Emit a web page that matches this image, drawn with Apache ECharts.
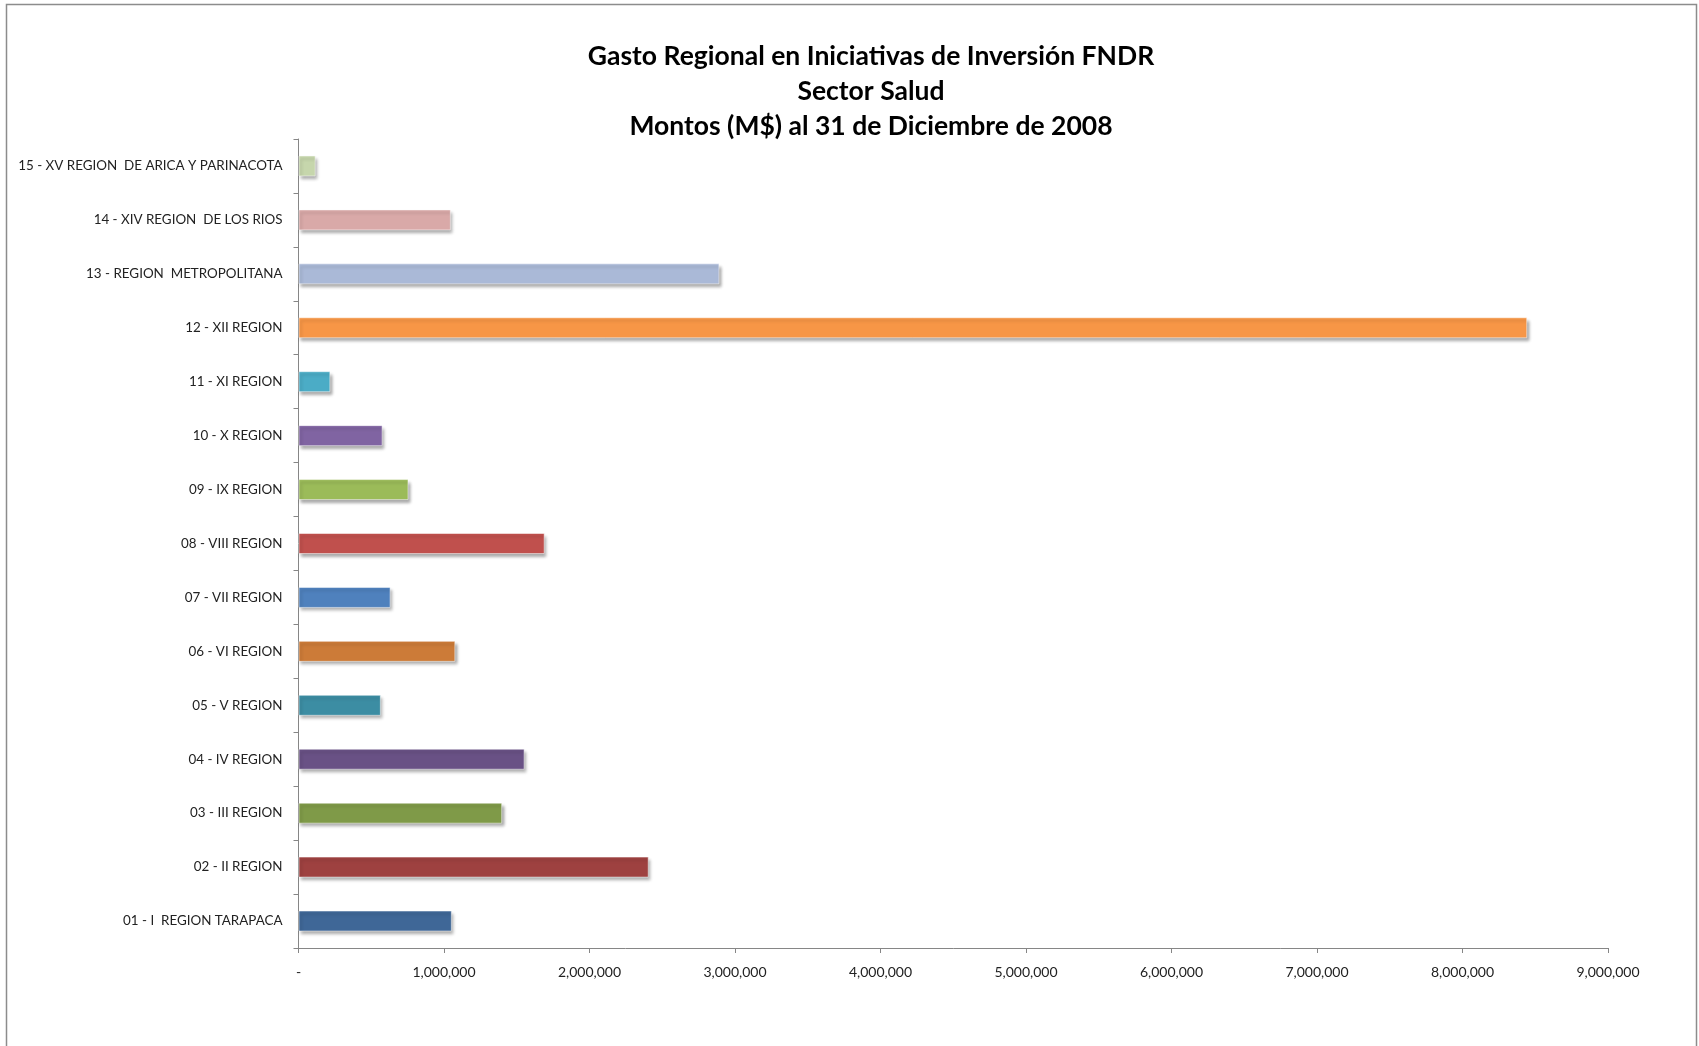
<!DOCTYPE html>
<html><head><meta charset="utf-8">
<script src="https://cdn.jsdelivr.net/npm/echarts@6/dist/echarts.min.js"></script>
<style>html,body{margin:0;padding:0;background:#fff}#c{width:1699px;height:1046px}</style>
</head><body><div id="c"></div>
<script>
const categories = [
  '01 - I  REGION TARAPACA', '02 - II REGION', '03 - III REGION', '04 - IV REGION',
  '05 - V REGION', '06 - VI REGION', '07 - VII REGION', '08 - VIII REGION',
  '09 - IX REGION', '10 - X REGION', '11 - XI REGION', '12 - XII REGION',
  '13 - REGION  METROPOLITANA', '14 - XIV REGION  DE LOS RIOS', '15 - XV REGION  DE ARICA Y PARINACOTA'
];
const montos = [1054000, 2407000, 1400000, 1554000, 566000, 1078000, 633000, 1692000,
  756000, 578000, 219000, 8445000, 2893000, 1047000, 118000];
const barColors = ['#3F6797', '#9E4140', '#7F9A48', '#695185', '#3C8DA3', '#CC7B38', '#4F81BD', '#C0504D',
  '#9BBB59', '#8064A2', '#4BACC6', '#F79646', '#AAB9D7', '#D9A9A8', '#C6D6AC'];
const titleLines = ['Gasto Regional en Iniciativas de Inversión FNDR', 'Sector Salud', 'Montos (M$) al 31 de Diciembre de 2008'];
const xMax = 9000000, xInterval = 1000000;

const font = 'Lato, "Open Sans", sans-serif';
const chart = echarts.init(document.getElementById('c'));
chart.setOption({
  animation: false,
  backgroundColor: '#fff',
  graphic: [{type: 'rect', shape: {x: 6.5, y: 4.5, width: 1690, height: 1060},
    style: {fill: 'none', stroke: '#8c8c8c', lineWidth: 1.5}, silent: true}],
  title: {
    text: titleLines.join('\n'), left: 866, top: 34, textAlign: 'center',
    textStyle: {fontFamily: font, fontWeight: 'bold', fontSize: 26.5, lineHeight: 35, color: '#000'}
  },
  grid: {left: 298.5, right: 91, top: 139, bottom: 98, containLabel: false},
  xAxis: {
    type: 'value', min: 0, max: xMax, interval: xInterval,
    axisLine: {show: true, lineStyle: {color: '#868686', width: 1}},
    axisTick: {show: true, length: 5, lineStyle: {color: '#868686'}},
    splitLine: {show: false},
    axisLabel: {margin: 17, fontFamily: font, fontSize: 14, color: '#222',
      formatter: v => v === 0 ? '-' : v.toLocaleString('en-US')}
  },
  yAxis: {
    type: 'category', data: categories,
    axisLine: {show: true, lineStyle: {color: '#868686', width: 1}},
    axisTick: {show: true, length: 5, lineStyle: {color: '#868686'}},
    axisLabel: {margin: 16, fontFamily: font, fontSize: 13.4, color: '#222'}
  },
  series: [{
    type: 'bar', data: montos.map((v, i) => ({value: v, itemStyle: {color: barColors[i]}})),
    barWidth: 21,
    itemStyle: {shadowColor: 'rgba(0,0,0,0.35)', shadowBlur: 3, shadowOffsetX: 2, shadowOffsetY: 3,
      borderColor: 'rgba(255,255,255,0.5)', borderWidth: 1}
  }]
});
</script></body></html>
